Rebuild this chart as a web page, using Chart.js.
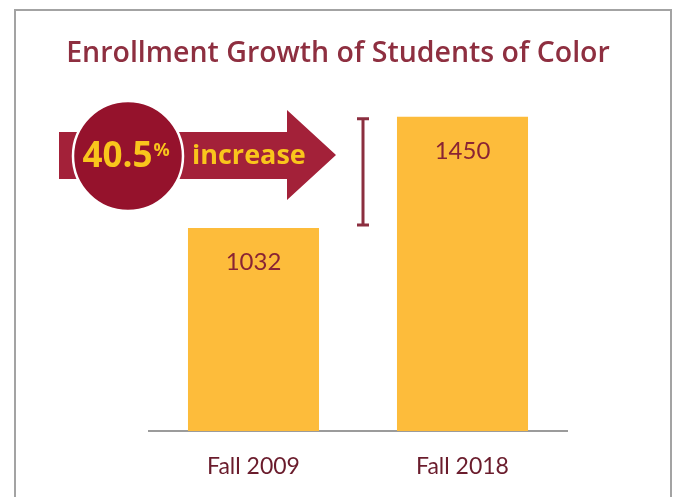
<!DOCTYPE html>
<html>
<head>
<meta charset="utf-8">
<script src="https://cdn.jsdelivr.net/npm/chart.js@4"></script>
<style>
  html, body { margin: 0; padding: 0; background: #fff; }
  #wrap { position: relative; width: 673px; height: 497px; }
</style>
</head>
<body>
<div id="wrap"><canvas id="myChart" width="673" height="497"></canvas></div>
<script>
// data
const terms = ['Fall 2009', 'Fall 2018'];
const students = [1032, 1450];
const axisMin = 268;
const axisMax = 1600;
const chartTitle = 'Enrollment Growth of Students of Color';

const maroon = '#8e2f40';
const gold = '#fdbc3b';

// outer frame and heading, drawn behind everything
// (the built-in title gets squeezed to the padded width, so it's drawn here)
const framePlugin = {
    id: 'frame',
    beforeDraw(chart) {
        const ctx = chart.ctx;
        ctx.save();
        ctx.strokeStyle = '#a3a3a3';
        ctx.lineWidth = 2;
        ctx.beginPath();
        ctx.moveTo(15, 500);
        ctx.lineTo(15, 10);
        ctx.lineTo(671, 10);
        ctx.lineTo(671, 500);
        ctx.stroke();

        ctx.fillStyle = maroon;
        ctx.font = '600 28.5px "Open Sans"';
        ctx.textAlign = 'center';
        ctx.textBaseline = 'alphabetic';
        ctx.fillText(chartTitle, 338, 62);
        ctx.restore();
    }
};

// numbers inside the bars + the bracket + the arrow badge
const annotatePlugin = {
    id: 'annotate',
    afterDatasetsDraw(chart) {
        const ctx = chart.ctx;
        const bars = chart.getDatasetMeta(0).data;
        ctx.save();

        // value labels
        ctx.fillStyle = '#8a2434';
        ctx.font = '24px Lato';
        ctx.textAlign = 'center';
        ctx.textBaseline = 'middle';
        bars.forEach((bar, i) => {
            ctx.fillText(students[i], bar.x, bar.y + 34);
        });

        // bracket between the two bar heights
        const yScale = chart.scales.y;
        const yHi = yScale.getPixelForValue(students[1]) + 2;
        const yLo = yScale.getPixelForValue(students[0]) - 3;
        const bx = 363;
        ctx.strokeStyle = '#8b2e3f';
        ctx.lineWidth = 3;
        ctx.beginPath();
        ctx.moveTo(bx, yHi); ctx.lineTo(bx, yLo);
        ctx.moveTo(bx - 6, yHi); ctx.lineTo(bx + 6, yHi);
        ctx.moveTo(bx - 6, yLo); ctx.lineTo(bx + 6, yLo);
        ctx.stroke();

        // arrow
        ctx.fillStyle = '#a32139';
        ctx.beginPath();
        ctx.moveTo(59, 132);
        ctx.lineTo(287, 132);
        ctx.lineTo(287, 110);
        ctx.lineTo(336, 155);
        ctx.lineTo(287, 200);
        ctx.lineTo(287, 179);
        ctx.lineTo(59, 179);
        ctx.closePath();
        ctx.fill();

        // circle badge
        ctx.beginPath();
        ctx.arc(128, 156, 55, 0, Math.PI * 2);
        ctx.fillStyle = '#95122c';
        ctx.fill();
        ctx.lineWidth = 2.5;
        ctx.strokeStyle = '#ffffff';
        ctx.stroke();

        const pct = ((students[1] - students[0]) / students[0] * 100).toFixed(1);
        ctx.fillStyle = '#f9c51c';
        ctx.textAlign = 'left';
        ctx.textBaseline = 'alphabetic';
        ctx.font = 'bold 35px "Open Sans"';
        const w = ctx.measureText(pct).width;
        ctx.font = 'bold 18px "Open Sans"';
        const pw = ctx.measureText('%').width;
        const x0 = 126 - (w + pw + 1) / 2;
        ctx.font = 'bold 35px "Open Sans"';
        ctx.fillText(pct, x0, 167);
        ctx.font = 'bold 18px "Open Sans"';
        ctx.fillText('%', x0 + w + 1, 156);

        ctx.font = 'bold 27px "Open Sans"';
        ctx.fillText('increase', 192, 164);

        ctx.restore();
    }
};

const ctx = document.getElementById('myChart').getContext('2d');
const chart = new Chart(ctx, {
    type: 'bar',
    data: {
        labels: terms,
        datasets: [{
            data: students,
            backgroundColor: gold,
            borderWidth: 0,
            categoryPercentage: 0.627,
            barPercentage: 1
        }]
    },
    options: {
        responsive: false,
        animation: false,
        layout: {
            padding: { left: 149, right: 106, top: 77, bottom: 0 }
        },
        plugins: {
            legend: { display: false },
            tooltip: { enabled: false },
            title: { display: false }
        },
        scales: {
            x: {
                grid: { display: false, drawTicks: false },
                border: { display: true, color: '#9b9b9b', width: 2 },
                ticks: {
                    color: '#6a1c2c',
                    font: { family: 'Lato', size: 23 },
                    padding: 22
                },
                afterFit(scale) {
                    scale.height = 66;
                }
            },
            y: {
                display: false,
                min: axisMin,
                max: axisMax
            }
        }
    },
    plugins: [framePlugin, annotatePlugin]
});
</script>
</body>
</html>
